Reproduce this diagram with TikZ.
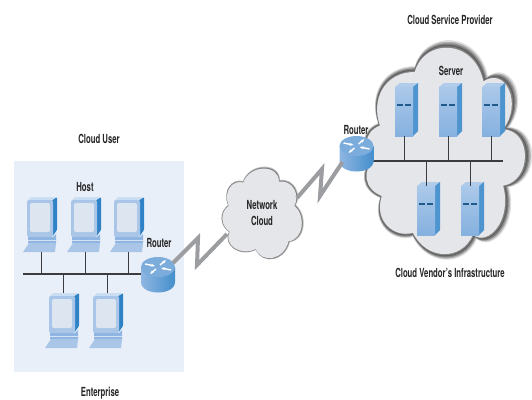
\documentclass[tikz,border=0pt]{standalone}
\usepackage{fontspec}
\setmainfont{TeX Gyre Heros}
\usetikzlibrary{arrows.meta}

\definecolor{panelblue}{HTML}{E9EFF8}
\definecolor{framecol}{HTML}{A9C6E8}
\definecolor{screencol}{HTML}{DCE5F0}
\definecolor{edgecol}{HTML}{2F82C6}
\definecolor{facecol}{HTML}{8FB6E2}
\definecolor{cloudcol}{HTML}{E5E6EA}
\definecolor{wirecol}{HTML}{3C3C40}
\definecolor{boltcol}{HTML}{9C9DA0}

\newcommand{\bigcloudpath}{(378,123) .. controls (368,95) and (383,66) .. (415,66)
    .. controls (425,30) and (478,30) .. (488,76)
    .. controls (512,60) and (530,100) .. (509,127)
    .. controls (540,128) and (540,182) .. (509,187)
    .. controls (519,225) and (492,252) .. (477,239)
    .. controls (465,267) and (428,267) .. (413,237)
    .. controls (393,243) and (371,224) .. (380,198)
    .. controls (360,190) and (360,170) .. (371,160)
    .. controls (360,150) and (360,130) .. (378,123) -- cycle}
\newcommand{\netcloudpath}{(228,205) .. controls (222,190) and (232,178) .. (243,181)
    .. controls (250,162) and (280,162) .. (280,180)
    .. controls (295,178) and (302,195) .. (296,205)
    .. controls (308,215) and (306,240) .. (290,242)
    .. controls (285,262) and (262,265) .. (256,250)
    .. controls (240,258) and (222,245) .. (229,232)
    .. controls (219,225) and (219,212) .. (228,205) -- cycle}
% one ring of the soft cloud rim: offset, scale, colour
\newcommand{\bigring}[4]{\begin{scope}[shift={(450,150)}, scale=#3, shift={(-450+#1,-150+#2)}]
        \fill[#4] \bigcloudpath;
    \end{scope}}
\newcommand{\netring}[4]{\begin{scope}[shift={(262,212)}, scale=#3, shift={(-262+#1,-212+#2)}]
        \fill[#4] \netcloudpath;
    \end{scope}}

\tikzset{
    lbl/.style={font=\fontsize{12.5}{16}\selectfont\bfseries, text=black!85, xscale=.62, align=center, inner sep=0pt},
    wire/.style={wirecol, line width=.9pt},
    bus/.style={wirecol, line width=1.4pt},
    bolt/.style={boltcol, line width=4pt, miter limit=20},
    host/.pic={
        \fill[edgecol, rounded corners=1pt] (11,-52) -- (16,-55) -- (16,-22) -- (11,-15) -- cycle;
        \fill[framecol!60] (-13,-52) -- (-10,-55) -- (16,-55) -- (11,-52) -- cycle;
        \fill[framecol, rounded corners=2pt] (-14,-52) rectangle (12,-15);
        \fill[screencol, rounded corners=2pt] (-11,-49) rectangle (9,-20);
        \fill[facecol] (-13,-15) -- (12,-15) -- (15,-18) -- (15,-9) -- (-13,-9) -- cycle;
        \fill[framecol!50] (-13,-12.5) -- (15,-12.5) -- (15,-11) -- (-13,-11) -- cycle;
        \fill[framecol] (-12,-9) -- (15,-9) -- (14,0) -- (-18,0) -- cycle;
        \coordinate (-top) at (0,-55);
        \coordinate (-base) at (0,0);
    },
    server/.pic={
        \fill[facecol!70] (-9,-49) -- (-4,-53) -- (14,-53) -- (9,-49) -- cycle;
        \fill[edgecol!85] (9,-49) -- (14,-53) -- (14,-5) -- (9,0) -- cycle;
        \fill[top color=facecol!75, bottom color=facecol!90!edgecol] (-9,-49) rectangle (9,0);
        \draw[edgecol!70!black, line width=1.4pt] (-7,-31) -- (-1,-31) (1,-31) -- (7,-31);
        \coordinate (-top) at (0,-49);
        \coordinate (-base) at (0,0);
    },
    router/.pic={
        \path[left color=facecol, right color=edgecol!90] (-17,0) -- (-17,15) .. controls (-17,29) and (17,29) .. (17,15) -- (17,0) -- cycle;
        \fill[facecol!80!edgecol] (0,0) ellipse [x radius=17, y radius=10];
        \draw[white, line width=1.4pt, -{Stealth[length=4pt]}] (-13,-3) -- (-3,-1);
        \draw[white, line width=1.4pt, -{Stealth[length=4pt]}] (13,3) -- (3,1);
        \draw[white, line width=1.4pt, -{Stealth[length=4pt]}] (-2,2) -- (-8,7);
        \draw[white, line width=1.4pt, -{Stealth[length=4pt]}] (2,-2) -- (8,-7);
        \coordinate (-wan) at (15,-4);
        \coordinate (-sw) at (-14,16);
    }
}

\begin{document}
\begin{tikzpicture}[x=1pt, y=-1pt]
    \useasboundingbox (0,0) rectangle (532,399);

    % enterprise side
    \fill[panelblue] (14,161) rectangle (184,372);
    \node[lbl] (cloudUser) at (99,139) {Cloud User};
    \node[lbl] (hostLbl) at (85,187) {Host};
    \node[lbl] (enterprise) at (100,393) {Enterprise};

    \pic (hostA) at (41,252) {host};
    \pic (hostB) at (85,252) {host};
    \pic (hostC) at (128,252) {host};
    \pic (hostD) at (63,348) {host};
    \pic (hostE) at (107,348) {host};

    \coordinate (busLa) at (23,274);
    \draw[wire] (hostA-base) -- (hostA-base |- busLa);
    \draw[wire] (hostB-base) -- (hostB-base |- busLa);
    \draw[wire] (hostC-base) -- (hostC-base |- busLa);
    \draw[wire] (hostD-top) -- (hostD-top |- busLa);
    \draw[wire] (hostE-top) -- (hostE-top |- busLa);
    \draw[bus] (busLa) -- (145,274);

    \pic (routerL) at (158,267) {router};
    \node[lbl] (routerLLbl) at (159,243) {Router};

    % network cloud
    \netring{0}{0}{1}{black!25}
    \netring{-.3}{.2}{.985}{black!50}
    \netring{-.5}{.4}{.965}{cloudcol}
    \node[lbl] (netCloud) at (262,213) {Network\\Cloud};
    \coordinate (netW) at (227,234);
    \coordinate (netE) at (297,198);

    % provider side
    \bigring{0}{0}{1}{black!12}
    \bigring{-.5}{.2}{.988}{black!30}
    \bigring{-1}{.4}{.976}{black!48}
    \bigring{-1.5}{.6}{.964}{black!62}
    \bigring{-2}{.8}{.952}{black!50}
    \bigring{-2.5}{1}{.94}{cloudcol}
    \node[lbl] (provider) at (450,20) {Cloud Service Provider};
    \node[lbl] (serverLbl) at (451,71) {Server};
    \node[lbl] (vendor) at (450,273) {Cloud Vendor's Infrastructure};

    \pic (serverA) at (404,136) {server};
    \pic (serverB) at (448,136) {server};
    \pic (serverC) at (491,136) {server};
    \pic (serverD) at (426,235) {server};
    \pic (serverE) at (470,235) {server};

    \coordinate (busRb) at (503,161);
    \draw[wire] (serverA-base) -- (serverA-base |- busRb);
    \draw[wire] (serverB-base) -- (serverB-base |- busRb);
    \draw[wire] (serverC-base) -- (serverC-base |- busRb);
    \draw[wire] (serverD-top) -- (serverD-top |- busRb);
    \draw[wire] (serverE-top) -- (serverE-top |- busRb);
    \draw[bus] (busRb) -- (372,161);

    \pic (routerR) at (356.5,146) {router};
    \node[lbl] (routerRLbl) at (356,130) {Router};

    % wan links
    \draw[bolt] (routerL-wan) -- ++(25,-25) -- ++(-1,27) -- (netW);
    \draw[bolt] (netE) -- ++(25,-29) -- ++(-2,27) -- (routerR-sw);
\end{tikzpicture}
\end{document}
